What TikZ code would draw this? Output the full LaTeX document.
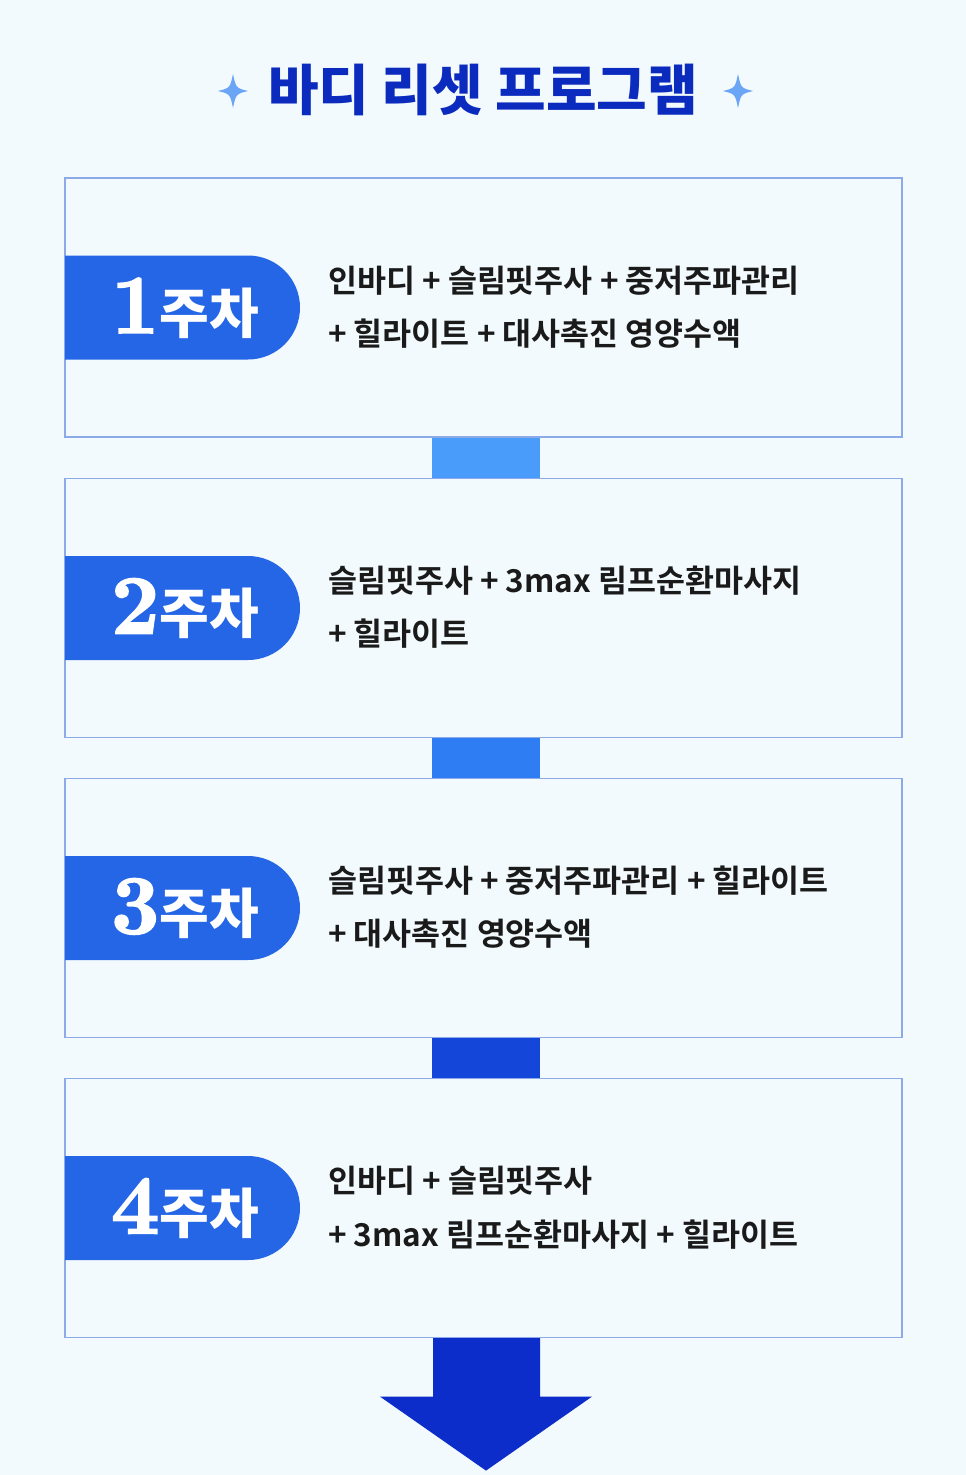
\documentclass[tikz,border=0pt]{standalone}
\usepackage{fontspec}
\newfontfamily\krmed{Noto Sans CJK KR}[UprightFont=* Bold]
\newfontfamily\krblk{Noto Sans CJK KR}[UprightFont=* Black]
\newfontfamily\numfont{lmroman10-bold}[Extension=.otf, FakeBold=2]
\definecolor{bg}{HTML}{F2FAFD}
\definecolor{boxc}{HTML}{8CAAE8}
\definecolor{badgec}{HTML}{2466E6}
\definecolor{titlec}{HTML}{0B2BBE}
\definecolor{starc}{HTML}{6BA6F6}
\definecolor{cone}{HTML}{4A9CFA}
\definecolor{ctwo}{HTML}{2F7DF2}
\definecolor{cthree}{HTML}{1546DA}
\definecolor{arrowc}{HTML}{0C2DC9}
\definecolor{txt}{HTML}{1A1A1A}
\begin{document}
\begin{tikzpicture}[x=1pt,y=-1pt,
  box/.style={draw=boxc, line width=1.2pt, fill=bg, minimum width=837pt, minimum height=259pt, inner sep=0pt},
  itemline/.style={anchor=west, font=\krmed\fontsize{31.5}{31.5}\selectfont, text=txt, inner sep=0pt},
  badgetext/.style={anchor=base east, text=white, inner sep=0pt},
  badgeshape/.style={fill=badgec},
  sparkle/.style={fill=starc}]
\fill[bg] (0,0) rectangle (966,1475);
\path[use as bounding box] (0,0) rectangle (966,1475);
% title
\node[font=\krblk\fontsize{55}{55}\selectfont, text=titlec, inner sep=0pt] (title) at (483,90) {바디 리셋 프로그램};
\coordinate (s1) at (233,91);
\coordinate (s2) at (738,91);
\foreach \s in {s1,s2}{
  \fill[sparkle,shift={(\s)}] (0,-17) .. controls (3,-3) .. (15,0) .. controls (3,3) .. (0,17) .. controls (-3,3) .. (-15,0) .. controls (-3,-3) .. (0,-17) -- cycle;
}
% boxes
\node[box] (b1) at (483.5,307.5) {};
\node[box] (b2) at (483.5,608) {};
\node[box] (b3) at (483.5,908) {};
\node[box] (b4) at (483.5,1208) {};
% connectors
\fill[cone] ([xshift=-51.5pt]b1.south) rectangle ([xshift=56.5pt]b2.north);
\fill[ctwo] ([xshift=-51.5pt]b2.south) rectangle ([xshift=56.5pt]b3.north);
\fill[cthree] ([xshift=-51.5pt]b3.south) rectangle ([xshift=56.5pt]b4.north);
\fill[arrowc] ([xshift=-50.5pt]b4.south) -- ([xshift=56.5pt]b4.south) -- ++(0,58.5) -- ++(52,0) -- ++(-106,74) -- ++(-106,-74) -- ++(53,0) -- cycle;
% badges and texts
\foreach \n/\cy in {1/307.5,2/608,3/908,4/1208}{
  \fill[badgeshape] (65,\cy-52) -- (248,\cy-52) arc[start angle=-90,end angle=90,radius=52] -- (65,\cy+52) -- cycle;
  \node[badgetext] (k\n) at (259,\cy+25.5) {{\numfont\fontsize{84}{84}\selectfont \n}{\krblk\fontsize{54}{54}\selectfont 주차}};
}
\node[itemline] (t1a) at (328,281) {인바디 + 슬림핏주사 + 중저주파관리};
\node[itemline] (t1b) at (328,334) {+ 힐라이트 + 대사촉진 영양수액};
\node[itemline] (t2a) at (328,581) {슬림핏주사 + 3max 림프순환마사지};
\node[itemline] (t2b) at (328,634) {+ 힐라이트};
\node[itemline] (t3a) at (328,881) {슬림핏주사 + 중저주파관리 + 힐라이트};
\node[itemline] (t3b) at (328,934) {+ 대사촉진 영양수액};
\node[itemline] (t4a) at (328,1181) {인바디 + 슬림핏주사};
\node[itemline] (t4b) at (328,1235) {+ 3max 림프순환마사지 + 힐라이트};
\end{tikzpicture}
\end{document}
